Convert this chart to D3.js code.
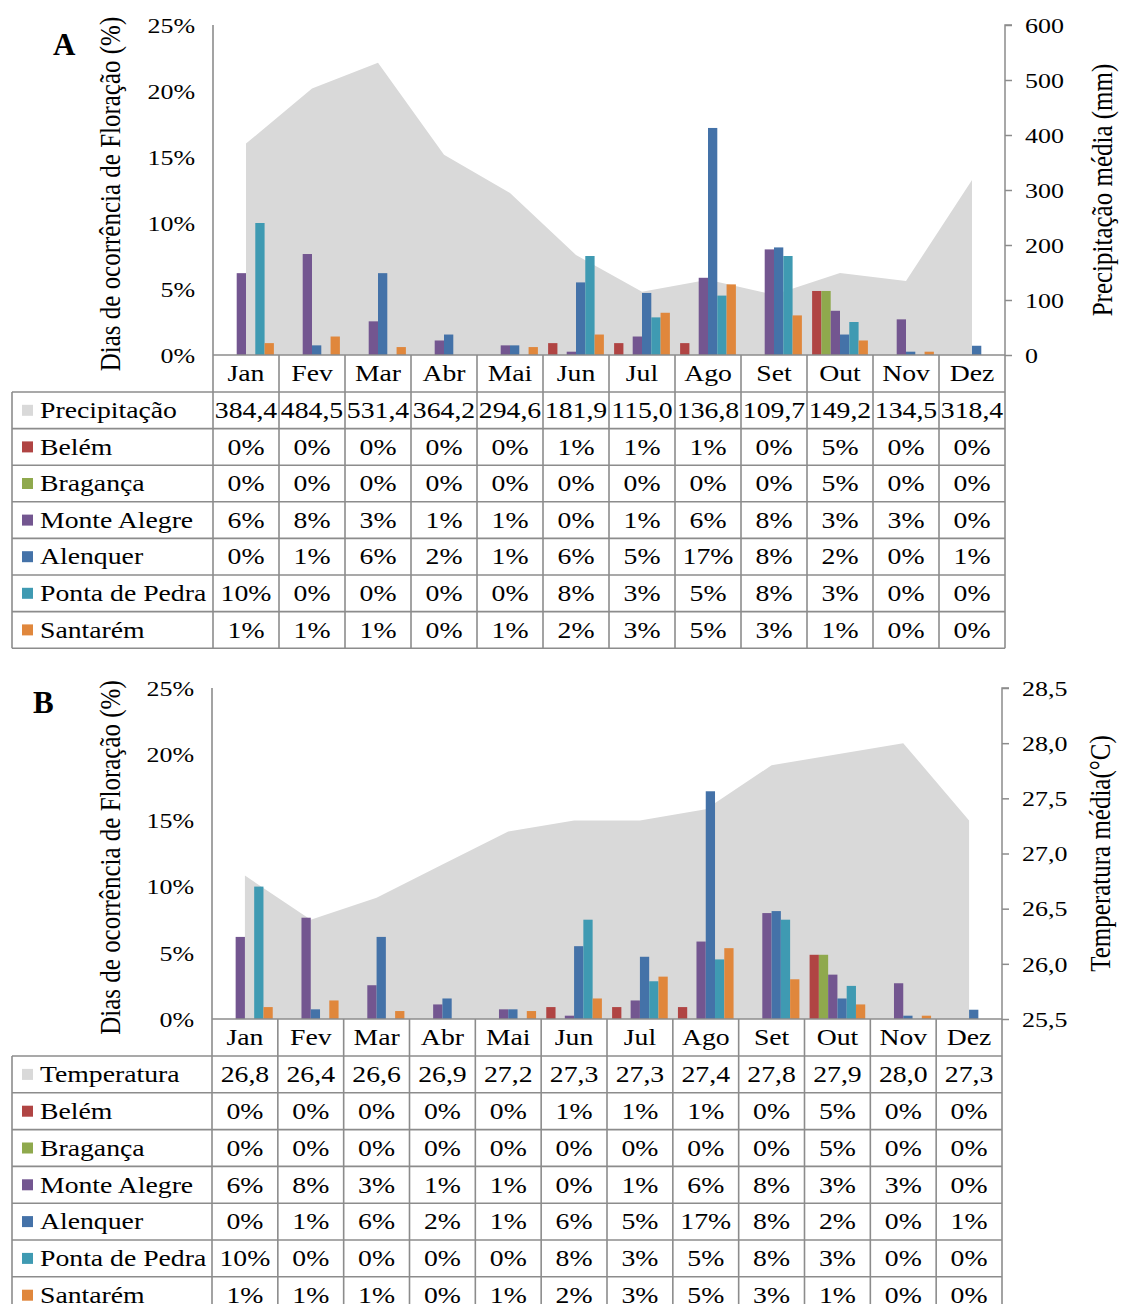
<!DOCTYPE html>
<html><head><meta charset="utf-8">
<script src="https://cdn.jsdelivr.net/npm/d3@7"></script>
<style>
body{margin:0;background:#fff}
text{font-family:"Liberation Serif","Times New Roman",serif;fill:#000}
</style>
</head><body>
<svg id="c" width="1122" height="1304"></svg>
<script>
const months = ["Jan","Fev","Mar","Abr","Mai","Jun","Jul","Ago","Set","Out","Nov","Dez"];
const series = ["Belém","Bragança","Monte Alegre","Alenquer","Ponta de Pedra","Santarém"];
const colors = ["#b04443","#8fa94d","#735690","#4472a8","#3f9ab2","#e0873c"];
const belem        = [0,0,0,0,0,0.9,0.9,0.9,0,4.85,0,0];
const braganca     = [0,0,0,0,0,0,0,0,0,4.85,0,0];
const monteAlegre  = [6.2,7.65,2.55,1.1,0.73,0.25,1.4,5.85,8.0,3.35,2.7,0];
const alenquer     = [0,0.73,6.2,1.55,0.73,5.5,4.7,17.2,8.15,1.55,0.25,0.7];
const pontaDePedra = [10.0,0,0,0,0,7.5,2.85,4.5,7.5,2.5,0,0];
const santarem     = [0.9,1.4,0.6,0,0.6,1.55,3.2,5.35,3.0,1.1,0.25,0];
const precipitacao = [384.4,484.5,531.4,364.2,294.6,181.9,115.0,136.8,109.7,149.2,134.5,318.4];
const temperatura  = [26.8,26.4,26.6,26.9,27.2,27.3,27.3,27.4,27.8,27.9,28.0,27.3];
const pctTicks  = [0,5,10,15,20,25];
const precTicks = [0,100,200,300,400,500,600];
const tempTicks = [25.5,26.0,26.5,27.0,27.5,28.0,28.5];

const seriesData = [belem,braganca,monteAlegre,alenquer,pontaDePedra,santarem];
const SX = 1.18;
const loc = d3.formatLocale({decimal:",",thousands:".",grouping:[3],currency:["",""]});
const f1 = loc.format(".1f");
const svg = d3.select("#c");
const AREA = "#d9d9d9", LINE = "#8c8c8c";

function txt(g, x, y, s, size, anchor, extra){
  const t = g.append("text")
    .attr("transform", `translate(${x},${y}) scale(${SX},1)` + (extra||""))
    .attr("text-anchor", anchor||"start")
    .attr("dominant-baseline","central")
    .style("font-size", size+"px")
    .text(s);
  return t;
}

function panel(cfg){
  const g = svg.append("g");
  const x = d3.scaleBand().domain(months).range([cfg.left,cfg.right]).padding(0);
  const bw = x.bandwidth();
  const xi = d3.scaleBand().domain(series).range([0,bw]).paddingInner(0).paddingOuter(0.55);
  const y = d3.scaleLinear().domain([0,25]).range([cfg.bottom,cfg.top]);
  const yr = d3.scaleLinear().domain(cfg.rDomain).range([cfg.bottom,cfg.top]);

  // area
  const area = d3.area()
    .x((d,i)=>x(months[i])+bw/2)
    .y0(yr(cfg.rDomain[0]))
    .y1(d=>yr(d));
  g.append("path").datum(cfg.areaData).attr("d",area).attr("fill",AREA);

  // bars
  seriesData.forEach((arr,si)=>{
    g.append("g").selectAll("rect").data(arr).join("rect")
      .attr("x",(d,i)=>x(months[i])+xi(series[si]))
      .attr("width",xi.bandwidth())
      .attr("y",d=>y(d))
      .attr("height",d=>cfg.bottom-y(d))
      .attr("fill",colors[si]);
  });

  // left axis
  const la = g.append("g").attr("transform",`translate(${cfg.left},0)`)
    .call(d3.axisLeft(y).tickValues(pctTicks).tickSize(0).tickFormat(d=>d+"%"));
  la.select(".domain").remove();
  la.selectAll("text").attr("x",0).attr("dy",null)
    .attr("transform",`translate(-18,0) scale(${SX},1)`)
    .attr("dominant-baseline","central")
    .style("font-size","22px").style("font-family",'"Liberation Serif",serif').attr("fill","#000");

  // right axis
  const ra = g.append("g").attr("transform",`translate(${cfg.right},0)`)
    .call(d3.axisRight(yr).tickValues(cfg.rTicks).tickSize(7).tickFormat(cfg.rFmt));
  ra.select(".domain").attr("stroke",LINE).attr("stroke-width",1.5).attr("d",`M7,${cfg.top}H0V${cfg.bottom}`);
  ra.selectAll("line").attr("stroke",LINE).attr("stroke-width",1.5);
  ra.selectAll("text").attr("x",0).attr("dy",null)
    .attr("transform",`translate(20,0) scale(${SX},1)`)
    .attr("dominant-baseline","central")
    .style("font-size","22px").style("font-family",'"Liberation Serif",serif').attr("fill","#000");

  // table geometry
  const tTop = cfg.tableTop, rh = cfg.rowH, nRows = 7;
  const tBot = tTop + nRows*rh;
  const lines = g.append("g").attr("stroke",LINE).attr("stroke-width",1.6).attr("fill","none");
  // left axis line (through header & table)
  lines.append("line").attr("x1",cfg.left).attr("x2",cfg.left).attr("y1",cfg.top).attr("y2",tBot);
  lines.append("line").attr("x1",cfg.right).attr("x2",cfg.right).attr("y1",cfg.bottom).attr("y2",tBot);
  // baseline
  lines.append("line").attr("x1",cfg.left).attr("x2",cfg.right).attr("y1",cfg.bottom).attr("y2",cfg.bottom);
  // month separators
  months.forEach((m,i)=>{ if(i>0) lines.append("line").attr("x1",x(m)).attr("x2",x(m)).attr("y1",cfg.bottom).attr("y2",tBot); });
  // horizontal table lines
  for(let k=0;k<=nRows;k++){
    lines.append("line").attr("x1",cfg.tableLeft).attr("x2",cfg.right).attr("y1",tTop+k*rh).attr("y2",tTop+k*rh);
  }
  lines.append("line").attr("x1",cfg.tableLeft).attr("x2",cfg.tableLeft).attr("y1",tTop).attr("y2",tBot);

  // month labels
  months.forEach(m=>txt(g, x(m)+bw/2, (cfg.bottom+tTop)/2, m, 23.5, "middle"));

  // table rows
  const rows = [{name:cfg.areaLabel,color:AREA,vals:cfg.areaData.map(f1)}]
    .concat(series.map((s,i)=>({name:s,color:colors[i],vals:seriesData[i].map(v=>Math.round(v)+"%")})));
  rows.forEach((r,ri)=>{
    const cy = tTop + ri*rh + rh/2;
    g.append("rect").attr("x",cfg.tableLeft+10).attr("y",cy-5.5).attr("width",11).attr("height",11).attr("fill",r.color);
    txt(g, cfg.tableLeft+28, cy, r.name, 23.5, "start");
    r.vals.forEach((v,i)=>txt(g, x(months[i])+bw/2, cy, v, 23.5, "middle"));
  });

  // titles
  g.append("text").attr("transform",`translate(${cfg.ltX},${(cfg.top+cfg.bottom)/2+4}) scale(${SX},1) rotate(-90)`)
    .attr("text-anchor","middle").attr("dominant-baseline","central").style("font-size","25px")
    .text("Dias de ocorrência de Floração (%)");
  g.append("text").attr("transform",`translate(${cfg.rtX},${(cfg.top+cfg.bottom)/2}) scale(${SX},1) rotate(-90)`)
    .attr("text-anchor","middle").attr("dominant-baseline","central").style("font-size","25px")
    .text(cfg.rTitle);
  g.append("text").attr("x",cfg.letterX).attr("y",cfg.letterY)
    .style("font-size","31px").style("font-weight","bold").text(cfg.letter);
}

panel({left:213,right:1005,top:25,bottom:355,tableTop:392,rowH:36.6,tableLeft:12,
  rDomain:[0,600],rTicks:precTicks,rFmt:d3.format("d"),
  areaData:precipitacao,areaLabel:"Precipitação",rTitle:"Precipitação média (mm)",
  ltX:110,rtX:1102,letter:"A",letterX:53,letterY:55});
panel({left:212,right:1002,top:688,bottom:1019,tableTop:1056,rowH:36.8,tableLeft:12,
  rDomain:[25.5,28.5],rTicks:tempTicks,rFmt:f1,
  areaData:temperatura,areaLabel:"Temperatura",rTitle:"Temperatura média(°C)",
  ltX:110,rtX:1100,letter:"B",letterX:33,letterY:713});
</script>
</body></html>
